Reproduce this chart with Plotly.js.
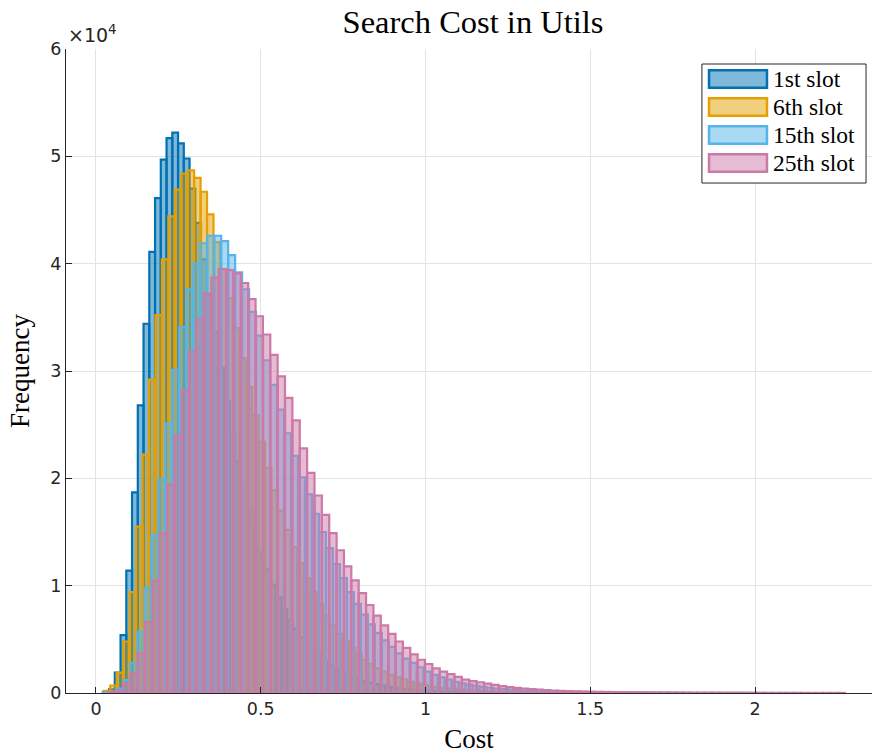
<!DOCTYPE html>
<html>
<head>
<meta charset="utf-8">
<script src="https://cdn.plot.ly/plotly-3.0.1.min.js"></script>
<style>html,body{margin:0;padding:0;background:#fff;}#chart{width:872px;height:755px;}</style>
</head>
<body>
<div id="chart"></div>
<script>
// ---- data (histogram counts) ----
const seriesNames = ['1st slot', '6th slot', '15th slot', '25th slot'];
const seriesColors = ['#0072B2', '#E69F00', '#56B4E9', '#CC79A7'];

// bin start (left edge of first bin) and bin width for each histogram
const binStart = [0.0222, 0.0237, 0.0195, 0.0370];
const binWidth = [0.01745, 0.01958, 0.0212, 0.02236];

const slot1 = [100, 350, 1900, 5400, 11400, 18700, 26800, 34400, 41100, 46100,
  49700, 51700, 52200, 51200, 49800, 47000, 43800, 40400, 37000, 33600,
  30300, 27200, 24300, 21600, 19100, 16900, 14900, 13100, 11500, 10100,
  8900, 7800, 6800, 6000, 5200, 4600, 4000, 3500, 3000, 2600,
  2300, 2000, 1700, 1500, 1300, 1100, 950, 820, 700, 600,
  520, 450, 390, 340, 290, 250, 220, 190, 160, 140,
  120, 100, 90, 80, 70, 60, 50, 45, 40, 35,
  30, 25, 22, 20, 18, 16, 14, 12, 10, 9,
  8, 7, 6, 5, 5, 4, 4, 3, 3, 3,
  2, 2, 2, 2, 1, 1, 1, 1, 1, 1];

const slot6 = [200, 700, 1900, 4800, 9400, 15500, 22200, 29200, 35200, 40400,
  44400, 46900, 48400, 48700, 48000, 46700, 44600, 42000, 39500, 36800,
  34000, 31200, 28500, 25900, 23400, 21000, 18900, 17000, 15200, 13600,
  12100, 10700, 9400, 8300, 7200, 6300, 5500, 4800, 4200, 3600,
  3100, 2700, 2300, 2000, 1700, 1450, 1250, 1050, 900, 780,
  660, 560, 480, 410, 350, 300, 250, 210, 180, 150,
  130, 110, 95, 80, 70, 60, 50, 43, 37, 32,
  27, 23, 20, 17, 15, 13, 11, 9, 8, 7,
  6, 5, 4, 4, 3, 3, 3, 2, 2, 2,
  2, 1, 1, 1, 1, 1, 1, 1, 1, 1];

const slot15 = [30, 100, 400, 1200, 2800, 5700, 9800, 14700, 19900, 25100,
  30100, 34100, 37600, 40000, 41900, 42600, 42600, 42100, 40800, 39200,
  37600, 35500, 33300, 31000, 28700, 26400, 24200, 22100, 20100, 18500,
  16700, 15000, 13500, 12000, 10700, 9400, 8300, 7300, 6400, 5600,
  4900, 4300, 3700, 3200, 2800, 2400, 2000, 1700, 1450, 1250,
  1050, 900, 780, 670, 570, 490, 420, 360, 310, 270,
  230, 200, 170, 150, 130, 110, 95, 82, 70, 60,
  52, 45, 39, 34, 29, 25, 22, 19, 16, 14,
  12, 10, 9, 8, 7, 6, 5, 4, 4, 3,
  3, 2, 2, 2, 2, 1, 1, 1, 1, 1];

const slot25 = [100, 200, 900, 1800, 3700, 6600, 10500, 14900, 19400, 24000,
  28200, 31800, 34800, 37200, 38700, 39500, 39400, 39100, 38200, 36700,
  35100, 33400, 31500, 29500, 27500, 25400, 22800, 20500, 18400, 16600,
  14900, 13300, 11800, 10500, 9300, 8200, 7200, 6300, 5500, 4800,
  4200, 3600, 3100, 2700, 2300, 2000, 1750, 1500, 1250, 1100,
  1000, 880, 750, 640, 550, 470, 410, 360, 310, 270,
  230, 200, 180, 160, 140, 120, 110, 100, 90, 80,
  70, 70, 60, 60, 50, 50, 40, 40, 40, 30,
  30, 30, 30, 20, 20, 20, 20, 20, 20, 10,
  10, 10, 10, 10, 10, 10, 10, 10, 10, 10];

const seriesCounts = [slot1, slot6, slot15, slot25];

const xTickVals = [0, 0.5, 1, 1.5, 2];
const xTickText = ['0', '0.5', '1', '1.5', '2'];
const yTickVals = [0, 10000, 20000, 30000, 40000, 50000, 60000];
const yTickText = ['0', '1', '2', '3', '4', '5', '6'];

// ---- helpers ----
function rgba(hex, a) {
  const r = parseInt(hex.slice(1, 3), 16), g = parseInt(hex.slice(3, 5), 16), b = parseInt(hex.slice(5, 7), 16);
  return 'rgba(' + r + ',' + g + ',' + b + ',' + a + ')';
}

const traces = seriesNames.map((name, k) => ({
  type: 'bar',
  name: name,
  y: seriesCounts[k],
  x0: binStart[k] + binWidth[k] / 2,
  dx: binWidth[k],
  width: binWidth[k],
  marker: { color: rgba(seriesColors[k], 0.5), line: { color: seriesColors[k], width: 2.2 } },
  showlegend: false,
  hoverinfo: 'x+y'
}));

const serif = 'Liberation Serif, Times New Roman, serif';
const sans = 'DejaVu Sans, Arial, sans-serif';
const axisCol = '#262626';

// custom legend (paper coordinates)
const legLeft = 0.789, legRight = 0.9926, legTop = 0.9767, legBottom = 0.7919;
const rowY = [0.9534, 0.9099, 0.8665, 0.8230];
const shapes = [{
  type: 'rect', xref: 'paper', yref: 'paper', x0: legLeft, x1: legRight, y0: legBottom, y1: legTop,
  line: { color: axisCol, width: 1 }, fillcolor: '#ffffff', layer: 'above'
}];
const annotations = [{
  xref: 'paper', yref: 'paper', x: 0, y: 1, xanchor: 'left', yanchor: 'bottom', yshift: 1, xshift: 0,
  text: '×10<sup>4</sup>', showarrow: false, font: { family: sans, size: 19, color: axisCol }
}];
seriesNames.forEach((name, k) => {
  shapes.push({
    type: 'rect', xref: 'paper', yref: 'paper', x0: 0.7978, x1: 0.8697, y0: rowY[k] - 0.0135, y1: rowY[k] + 0.0135,
    line: { color: seriesColors[k], width: 2.5 }, fillcolor: rgba(seriesColors[k], 0.5), layer: 'above'
  });
  annotations.push({
    xref: 'paper', yref: 'paper', x: 0.8747, y: rowY[k], xanchor: 'left', yanchor: 'middle',
    text: name, showarrow: false, font: { family: serif, size: 23.5, color: '#000' }
  });
});

const layout = {
  width: 872, height: 755,
  margin: { l: 66, r: 0, t: 49, b: 62 },
  paper_bgcolor: '#ffffff', plot_bgcolor: '#ffffff',
  barmode: 'overlay', bargap: 0,
  title: { text: 'Search Cost in Utils', font: { family: serif, size: 32.5, color: '#000' },
           xref: 'paper', x: 0.505, xanchor: 'center', yref: 'container', y: 0.972, yanchor: 'middle' },
  xaxis: {
    range: [-0.091, 2.355], tickvals: xTickVals, ticktext: xTickText,
    showline: true, linecolor: axisCol, linewidth: 1, mirror: false,
    ticks: 'inside', ticklen: 6, tickcolor: axisCol, tickwidth: 1,
    showgrid: true, gridcolor: '#e3e3e3', gridwidth: 1, zeroline: false,
    tickfont: { family: sans, size: 17.5, color: axisCol },
    title: { text: 'Cost', font: { family: serif, size: 27, color: '#000' }, standoff: 11 }
  },
  yaxis: {
    range: [0, 60000], tickvals: yTickVals, ticktext: yTickText,
    showline: true, linecolor: axisCol, linewidth: 1, mirror: false,
    ticks: 'inside', ticklen: 6, tickcolor: axisCol, tickwidth: 1,
    showgrid: true, gridcolor: '#e3e3e3', gridwidth: 1, zeroline: false,
    tickfont: { family: sans, size: 17.5, color: axisCol },
    title: { text: 'Frequency', font: { family: serif, size: 27, color: '#000' }, standoff: 12 }
  },
  shapes: shapes,
  annotations: annotations,
  showlegend: false
};

Plotly.newPlot('chart', traces, layout, { displayModeBar: false, staticPlot: true });
</script>
</body>
</html>
